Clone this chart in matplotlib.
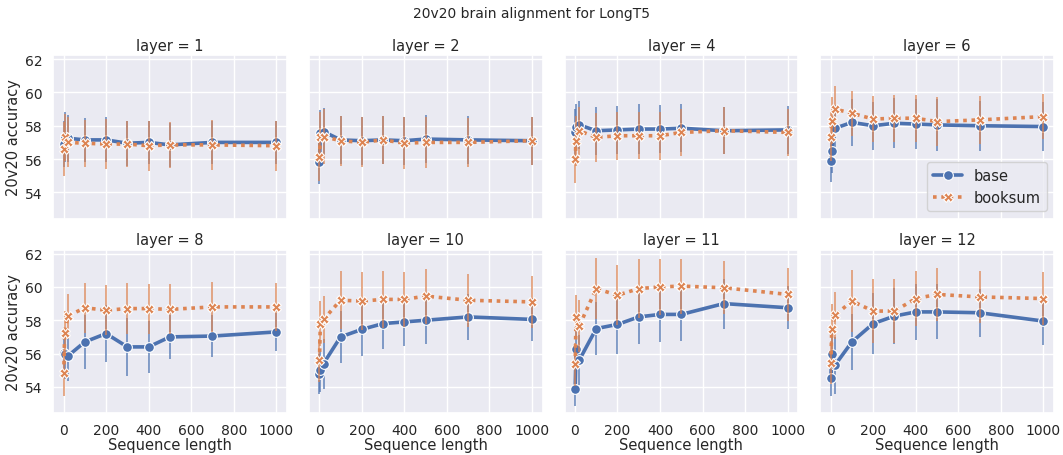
import matplotlib
matplotlib.use("Agg")
import matplotlib.pyplot as plt
import seaborn as sns
import numpy as np

sns.set_theme(style="darkgrid")
plt.rcParams['font.family'] = ['DejaVu Sans']

seq_len = [1, 5, 20, 100, 200, 300, 400, 500, 700, 1000]
layers = [1, 2, 4, 6, 8, 10, 11, 12]
models = ["base", "booksum"]

base_mean = {
    1: [56.9, 57.3, 57.25, 57.15, 57.15, 56.95, 57.0, 56.85, 57.0, 57.0],
    2: [55.8, 57.55, 57.65, 57.15, 57.1, 57.15, 57.1, 57.2, 57.15, 57.1],
    4: [57.6, 57.9, 58.05, 57.7, 57.75, 57.8, 57.8, 57.85, 57.7, 57.75],
    6: [55.9, 56.5, 57.85, 58.2, 58.0, 58.15, 58.1, 58.05, 58.0, 57.95],
    8: [56.05, 56.0, 55.85, 56.7, 57.2, 56.4, 56.4, 57.0, 57.05, 57.3],
    10: [54.75, 55.0, 55.4, 57.0, 57.45, 57.8, 57.9, 58.0, 58.2, 58.05],
    11: [53.9, 56.25, 55.6, 57.5, 57.75, 58.2, 58.35, 58.35, 59.0, 58.75],
    12: [54.55, 56.0, 55.3, 56.7, 57.8, 58.25, 58.5, 58.5, 58.45, 57.95],
}
base_err = {
    1: [1.4, 1.5, 1.4, 1.3, 1.35, 1.35, 1.3, 1.3, 1.3, 1.3],
    2: [1.3, 1.4, 1.4, 1.45, 1.45, 1.45, 1.45, 1.45, 1.45, 1.45],
    4: [1.4, 1.4, 1.45, 1.45, 1.45, 1.5, 1.45, 1.45, 1.4, 1.45],
    6: [1.3, 1.35, 1.4, 1.4, 1.45, 1.5, 1.5, 1.55, 1.5, 1.45],
    8: [1.4, 1.5, 1.5, 1.6, 1.7, 1.75, 1.55, 1.3, 1.25, 1.15],
    10: [1.2, 1.3, 1.5, 1.55, 1.6, 1.5, 1.45, 1.45, 1.4, 1.3],
    11: [1.05, 1.25, 1.5, 1.6, 1.75, 1.6, 1.65, 1.6, 1.5, 1.3],
    12: [1.1, 1.3, 1.7, 1.7, 1.85, 1.7, 1.7, 1.65, 1.45, 1.45],
}
booksum_mean = {
    1: [56.6, 57.3, 57.0, 56.95, 56.9, 56.9, 56.8, 56.85, 56.85, 56.8],
    2: [56.1, 57.35, 57.35, 57.1, 57.0, 57.15, 56.95, 57.0, 57.0, 57.1],
    4: [56.0, 57.1, 57.7, 57.3, 57.4, 57.4, 57.4, 57.6, 57.7, 57.6],
    6: [57.35, 58.3, 59.0, 58.75, 58.4, 58.45, 58.45, 58.25, 58.35, 58.55],
    8: [54.85, 57.25, 58.25, 58.75, 58.6, 58.7, 58.7, 58.65, 58.8, 58.8],
    10: [55.6, 57.8, 58.05, 59.2, 59.15, 59.25, 59.25, 59.45, 59.2, 59.1],
    11: [55.35, 58.2, 57.65, 59.9, 59.5, 59.9, 60.0, 60.05, 59.95, 59.55],
    12: [55.45, 57.45, 58.3, 59.15, 58.55, 58.55, 59.3, 59.55, 59.4, 59.3],
}
booksum_err = {
    1: [1.6, 1.4, 1.5, 1.4, 1.5, 1.4, 1.5, 1.4, 1.5, 1.5],
    2: [1.4, 1.5, 1.65, 1.5, 1.5, 1.45, 1.55, 1.55, 1.45, 1.45],
    4: [1.45, 1.5, 1.45, 1.45, 1.45, 1.4, 1.45, 1.4, 1.4, 1.4],
    6: [1.45, 1.4, 1.4, 1.35, 1.4, 1.4, 1.4, 1.45, 1.45, 1.35],
    8: [1.4, 1.3, 1.35, 1.5, 1.5, 1.55, 1.5, 1.5, 1.5, 1.45],
    10: [1.3, 1.35, 1.4, 1.75, 1.75, 1.7, 1.65, 1.65, 1.6, 1.55],
    11: [1.3, 1.3, 1.55, 1.85, 1.8, 1.75, 1.7, 1.65, 1.6, 1.6],
    12: [1.3, 1.5, 1.4, 1.85, 1.9, 1.9, 1.65, 1.6, 1.55, 1.6],
}

pal = sns.color_palette("deep")
styles = {
    "base": dict(color=pal[0], ls="-", marker="o", ms=7),
    "booksum": dict(color=pal[1], ls=(0, (1, 1.3)), marker="X", ms=7),
}
data = {"base": (base_mean, base_err), "booksum": (booksum_mean, booksum_err)}

fig, axes = plt.subplots(2, 4, figsize=(10.63, 4.56), dpi=100, sharex=True, sharey=True)
fig.subplots_adjust(left=0.05, right=0.9915, top=0.877, bottom=0.092, wspace=0.094, hspace=0.19)

for ax, layer in zip(axes.flat, layers):
    for m in models:
        mean, err = data[m]
        st = styles[m]
        ax.errorbar(seq_len, mean[layer], yerr=err[layer], ls="none", color=st["color"],
                    elinewidth=1.2, alpha=0.8, capsize=0)
        ax.plot(seq_len, mean[layer], ls=st["ls"], color=st["color"], lw=2.6,
                marker=st["marker"], ms=st["ms"], mec="white", mew=0.8, label=m)
    ax.set_title(f"layer = {layer}", fontsize=10.5, pad=4)
    ax.set_xticks([0, 200, 400, 600, 800, 1000])
    ax.set_yticks([54, 56, 58, 60, 62])
    ax.tick_params(labelsize=10, pad=1.5)

axes[0, 0].set_ylim(52.43, 62.24)
axes[0, 0].set_xlim(-49, 1050)
for ax in axes[:, 0]:
    ax.set_ylabel("20v20 accuracy", fontsize=10.5, labelpad=3)
for ax in axes[1, :]:
    ax.set_xlabel("Sequence length", fontsize=10.5, labelpad=0)

axes[0, 3].legend(loc="lower right", fontsize=10.5, framealpha=0.8)
fig.suptitle("20v20 brain alignment for LongT5", fontsize=10, y=0.985)

fig.savefig("out.png", dpi=100)
